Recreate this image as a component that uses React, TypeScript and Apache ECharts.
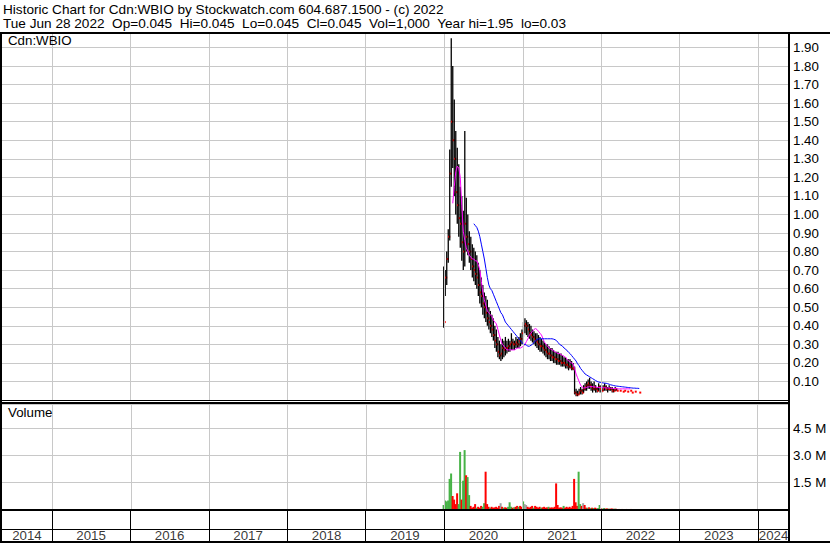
import React, { useEffect, useRef } from "react";
import * as echarts from "echarts";

const FONT = '"Liberation Sans", Arial, Helvetica, sans-serif';
const FS = 13.3;
const FS_HEAD = 13.6;

// ---- header texts ----
const titleLine1 = "Historic Chart for Cdn:WBIO by Stockwatch.com 604.687.1500 - (c) 2022";
const titleLine2 = "Tue Jun 28 2022  Op=0.045  Hi=0.045  Lo=0.045  Cl=0.045  Vol=1,000  Year hi=1.95  lo=0.03";
const symbolLabel = "Cdn:WBIO";
const volumeLabel = "Volume";

// ---- time axis ----
const axisStart = Date.UTC(2014, 4, 14);
const axisEnd = Date.UTC(2024, 4, 24);
const years = [2014, 2015, 2016, 2017, 2018, 2019, 2020, 2021, 2022, 2023, 2024];
const firstWeek = Date.UTC(2019, 11, 30);
const WEEK = 7 * 24 * 3600 * 1000;

// ---- weekly price data (index 0 = week of 2019-12-30) ----
const high = [
  0.72, 0.70, 0.80, 0.92, 1.35, 1.95, 1.80, 1.62, 1.45, 1.36,
  1.27, 1.15, 1.10, 1.02, 1.45, 1.09, 1.00, 0.91, 0.88, 0.84,
  0.82, 0.80, 0.78, 0.74, 0.70, 0.66, 0.62, 0.58, 0.56, 0.54,
  0.50, 0.48, 0.46, 0.44, 0.40, 0.38, 0.34, 0.32, 0.30, 0.33,
  0.32, 0.34, 0.32, 0.33, 0.32, 0.36, 0.33, 0.32, 0.34, 0.33,
  0.34, 0.36, 0.38, 0.42, 0.44, 0.43, 0.42, 0.41, 0.40, 0.38,
  0.37, 0.36, 0.36, 0.35, 0.34, 0.33, 0.32, 0.31, 0.30, 0.30,
  0.29, 0.28, 0.28, 0.27, 0.26, 0.26, 0.26, 0.25, 0.25, 0.24,
  0.23, 0.23, 0.22, 0.22, 0.22, 0.21, 0.20, 0.18, 0.06, 0.05,
  0.06, 0.07, 0.06, 0.08, 0.09, 0.10, 0.11, 0.12, 0.10, 0.09,
  0.10, 0.08, 0.07, 0.09, 0.08, 0.07, 0.08, 0.09, 0.08, 0.07,
  0.08, 0.07, 0.07, 0.06, 0.07, 0.06, null, 0.05, null, 0.045,
  0.05, null, 0.045, null, 0.05, 0.04, null, 0.045, null, null,
  0.04,
];
const low = [
  0.39, 0.56, 0.62, 0.74, 0.86, 1.15, 1.25, 1.10, 1.00, 0.95,
  0.88, 0.82, 0.75, 0.70, 0.72, 0.80, 0.78, 0.74, 0.70, 0.66,
  0.64, 0.62, 0.60, 0.56, 0.52, 0.50, 0.46, 0.44, 0.42, 0.40,
  0.38, 0.36, 0.34, 0.32, 0.28, 0.26, 0.23, 0.22, 0.21, 0.22,
  0.23, 0.24, 0.25, 0.26, 0.26, 0.27, 0.27, 0.27, 0.28, 0.28,
  0.28, 0.29, 0.30, 0.34, 0.36, 0.35, 0.34, 0.33, 0.32, 0.31,
  0.30, 0.29, 0.28, 0.27, 0.26, 0.26, 0.25, 0.24, 0.23, 0.22,
  0.22, 0.21, 0.21, 0.20, 0.20, 0.19, 0.19, 0.19, 0.18, 0.18,
  0.18, 0.17, 0.17, 0.16, 0.17, 0.16, 0.16, 0.03, 0.02, 0.02,
  0.03, 0.03, 0.03, 0.04, 0.05, 0.05, 0.06, 0.06, 0.05, 0.04,
  0.05, 0.04, 0.04, 0.05, 0.04, 0.04, 0.05, 0.05, 0.05, 0.04,
  0.05, 0.05, 0.04, 0.04, 0.05, 0.05, null, 0.05, null, 0.045,
  0.05, null, 0.045, null, 0.05, 0.04, null, 0.045, null, null,
  0.04,
];
const close = [
  0.42, 0.66, 0.76, 0.88, 1.22, 1.50, 1.40, 1.30, 1.12, 1.05,
  0.98, 0.95, 0.85, 0.80, 0.95, 0.88, 0.84, 0.80, 0.76, 0.72,
  0.70, 0.68, 0.66, 0.62, 0.58, 0.56, 0.52, 0.50, 0.47, 0.44,
  0.42, 0.40, 0.38, 0.35, 0.32, 0.30, 0.26, 0.24, 0.25, 0.28,
  0.27, 0.28, 0.28, 0.29, 0.30, 0.31, 0.30, 0.30, 0.31, 0.30,
  0.32, 0.33, 0.36, 0.40, 0.41, 0.40, 0.38, 0.36, 0.35, 0.34,
  0.33, 0.32, 0.31, 0.30, 0.29, 0.29, 0.28, 0.27, 0.26, 0.25,
  0.25, 0.24, 0.23, 0.23, 0.22, 0.22, 0.21, 0.21, 0.20, 0.20,
  0.20, 0.19, 0.19, 0.18, 0.18, 0.17, 0.17, 0.04, 0.03, 0.03,
  0.04, 0.05, 0.04, 0.06, 0.07, 0.08, 0.09, 0.08, 0.07, 0.06,
  0.07, 0.06, 0.05, 0.07, 0.06, 0.05, 0.06, 0.07, 0.06, 0.06,
  0.06, 0.06, 0.05, 0.05, 0.06, 0.05, null, 0.05, null, 0.045,
  0.05, null, 0.045, null, 0.05, 0.04, null, 0.045, null, null,
  0.04,
];

// ---- moving averages ----
const maFastStart = 6;
const maFast = [
  1.06, 1.15, 1.23, 1.26, 1.25, 1.20, 1.05, 0.91, 0.86, 0.82,
  0.80, 0.78, 0.77, 0.76, 0.76, 0.75, 0.75, 0.73, 0.70, 0.64,
  0.58, 0.54, 0.51, 0.48, 0.47, 0.46, 0.45, 0.43, 0.42, 0.41,
  0.38, 0.35, 0.32, 0.30, 0.29, 0.28, 0.27, 0.27, 0.27, 0.27,
  0.27, 0.27, 0.275, 0.28, 0.28, 0.28, 0.285, 0.29, 0.30, 0.315,
  0.33, 0.35, 0.36, 0.37, 0.38, 0.385, 0.38, 0.37, 0.36, 0.35,
  0.33, 0.31, 0.30, 0.29, 0.28, 0.275, 0.27, 0.265, 0.26, 0.255,
  0.25, 0.25, 0.245, 0.24, 0.235, 0.23, 0.22, 0.21, 0.205, 0.20,
  0.195, 0.17, 0.14, 0.12, 0.10, 0.08, 0.07, 0.065, 0.065, 0.068,
  0.07, 0.072, 0.073, 0.072, 0.07, 0.07, 0.068, 0.067, 0.068, 0.068,
  0.066, 0.066, 0.065, 0.065, 0.065, 0.064, 0.063, 0.062, 0.062, 0.061,
  0.06, 0.06, 0.06, 0.06, 0.06, 0.06, 0.06, 0.06, 0.06,
];
const maSlowStart = 20;
const maSlow = [
  0.95, 0.94, 0.93, 0.91, 0.88, 0.84, 0.80, 0.76, 0.71, 0.66,
  0.62, 0.60, 0.59, 0.57, 0.55, 0.53, 0.51, 0.49, 0.47, 0.46,
  0.44, 0.42, 0.41, 0.40, 0.39, 0.38, 0.37, 0.36, 0.35, 0.34,
  0.33, 0.32, 0.31, 0.30, 0.30, 0.295, 0.29, 0.29, 0.295, 0.30,
  0.31, 0.32, 0.325, 0.33, 0.33, 0.33, 0.33, 0.33, 0.33, 0.33,
  0.33, 0.33, 0.33, 0.328, 0.325, 0.32, 0.31, 0.30, 0.295, 0.29,
  0.28, 0.275, 0.265, 0.258, 0.25, 0.24, 0.23, 0.22, 0.21, 0.195,
  0.185, 0.17, 0.16, 0.15, 0.14, 0.135, 0.13, 0.125, 0.12, 0.115,
  0.11, 0.105, 0.10, 0.097, 0.095, 0.093, 0.092, 0.091, 0.09, 0.088,
  0.085, 0.082, 0.08, 0.078, 0.076, 0.075, 0.074, 0.073, 0.072, 0.071,
  0.07, 0.069, 0.068, 0.067, 0.066, 0.065, 0.064, 0.064, 0.063, 0.063,
  0.062,
];

// ---- weekly volume (millions) and direction u=up d=down n=unchanged ----
const volume = [
  0.25, 0.5, 0.45, 0.5, 1.7, 2.0, 0.75, 0.55, 0.3, 0.9,
  0.3, 3.2, 0.55, 1.6, 3.3, 1.9, 1.8, 0.8, 0.2, 0.1,
  0.15, 0.3, 0.1, 0.15, 0.1, 0.2, 0.15, 0.35, 2.1, 0.3,
  0.15, 0.1, 0.15, 0.1, 0.12, 0.15, 0.1, 0.2, 0.35, 0.15,
  0.1, 0.12, 0.1, 0.15, 0.4, 0.15, 0.1, 0.12, 0.15, 0.2,
  0.15, 0.2, 0.15, 0.45, 0.3, 0.25, 0.15, 0.1, 0.15, 0.2,
  0.1, 0.2, 0.15, 0.1, 0.15, 0.1, 0.12, 0.15, 0.1, 0.12,
  0.15, 0.1, 0.12, 0.1, 0.15, 1.45, 0.25, 0.1, 0.12, 0.1,
  0.2, 0.1, 0.15, 0.1, 0.15, 0.1, 0.2, 1.7, 0.4, 0.2,
  2.1, 0.3, 0.2, 0.35, 0.25, 0.1, 0.1, 0.12, 0.08, 0.1,
  0.08, 0.1, 0.06, 0.08, 0.25, 0.06, 0.05, 0.08, 0.05, 0.06,
  0.05, 0.04, 0.06, 0.04, 0.05, 0.04, 0, 0.03, 0, 0.03,
  0.02, 0, 0.03, 0, 0.02, 0.03, 0, 0.02, 0, 0,
  0.02,
];
const volumeDir =
  "uuuuuudddd" + "uuduuduudd" + "dduddduudd" + "duddddddnd" + "udduuududd" +
  "uddunndddd" + "uddddudddd" + "uddddddddd" + "uddddddddd" + "uudnddudud" +
  "udduuduudd" + "udddudndnd" + "undnudndnn" + "d";

const dirColor: Record<string, string> = { u: "#47B347", d: "#FF0000", n: "#A0A0A0" };

const weekDate = (i: number) => firstWeek + i * WEEK;

export default function App() {
  const ref = useRef<HTMLDivElement>(null);
  useEffect(() => {
    if (!ref.current) return;
    const chart = echarts.init(ref.current, null, { renderer: "svg" });

    const n = Math.min(high.length, low.length, close.length);
    const priceData: any[] = [];
    for (let i = 0; i < n; i++) {
      if (high[i] == null || low[i] == null || close[i] == null) continue;
      priceData.push([weekDate(i), high[i], low[i], close[i]]);
    }
    const fastData = maFast.map((v, k) => [weekDate(maFastStart + k), v]);
    const slowData = maSlow.map((v, k) => [weekDate(maSlowStart + k), v]);
    const volData: any[] = [];
    for (let i = 0; i < volume.length; i++) {
      if (!volume[i]) continue;
      volData.push({
        value: [weekDate(i), volume[i]],
        itemStyle: { color: dirColor[volumeDir[i]] || "#A0A0A0" },
      });
    }
    const yearLines = years.slice(1).map((y) => ({ xAxis: Date.UTC(y, 0, 1) }));
    const yearLabelData = years.map((y) => {
      const s = Math.max(Date.UTC(y, 0, 1), axisStart);
      const e = Math.min(Date.UTC(y + 1, 0, 1), axisEnd);
      return { value: [(s + e) / 2, 0.18], name: String(y) };
    });

    const gridLine = { color: "#C8C8C8", width: 1, type: "solid" as const };
    const mkLine = (color: string) => ({
      silent: true,
      symbol: ["none", "none"],
      label: { show: false },
      emphasis: { disabled: true },
      lineStyle: { color, width: 1, type: "solid" },
      data: yearLines,
      animation: false,
    });

    const xAx = (gi: number) => ({
      type: "time",
      gridIndex: gi,
      min: axisStart,
      max: axisEnd,
      show: false,
    });

    const option: any = {
      animation: false,
      backgroundColor: "#FFFFFF",
      grid: [
        { left: 2, top: 33, width: 787, height: 367 },
        { left: 2, top: 404, width: 787, height: 105.5 },
        { left: 2, top: 511, width: 787, height: 30 },
      ],
      xAxis: [xAx(0), xAx(1), xAx(2)],
      yAxis: [
        {
          type: "value",
          gridIndex: 0,
          min: 0,
          max: 1.978,
          interval: 0.1,
          position: "right",
          axisLine: { show: false },
          axisTick: { show: false },
          splitLine: { show: true, lineStyle: gridLine },
          axisLabel: {
            color: "#000",
            fontFamily: FONT,
            fontSize: FS,
            margin: 4,
            showMaxLabel: false,
            showMinLabel: false,
            formatter: (v: number) => {
              const k = Math.round(v * 10);
              return Math.abs(v * 10 - k) < 1e-6 && k >= 1 && k <= 19 ? v.toFixed(2) : "";
            },
          },
        },
        {
          type: "value",
          gridIndex: 1,
          min: 0,
          max: 5.861,
          interval: 1.5,
          position: "right",
          axisLine: { show: false },
          axisTick: { show: false },
          splitLine: { show: true, lineStyle: gridLine },
          axisLabel: {
            color: "#000",
            fontFamily: FONT,
            fontSize: FS,
            margin: 4,
            showMaxLabel: false,
            showMinLabel: false,
            formatter: (v: number) => {
              const k = Math.round(v / 1.5);
              return Math.abs(v / 1.5 - k) < 1e-6 && k >= 1 && k <= 3 ? v.toFixed(1) + " M" : "";
            },
          },
        },
        { type: "value", gridIndex: 2, min: 0, max: 1, show: false },
      ],
      series: [
        {
          type: "line",
          xAxisIndex: 0,
          yAxisIndex: 0,
          data: [],
          z: 1,
          markLine: mkLine("#C8C8C8"),
        },
        {
          type: "custom",
          xAxisIndex: 0,
          yAxisIndex: 0,
          z: 3,
          clip: true,
          encode: { x: 0, y: [1, 2, 3] },
          data: priceData,
          renderItem: (params: any, api: any) => {
            const t = api.value(0);
            const pH = api.coord([t, api.value(1)]);
            const pL = api.coord([t, api.value(2)]);
            const pC = api.coord([t, api.value(3)]);
            return {
              type: "group",
              children: [
                {
                  type: "line",
                  shape: { x1: pH[0], y1: pH[1], x2: pL[0], y2: pL[1] },
                  style: { stroke: "#000000", lineWidth: 1.3 },
                },
                {
                  type: "rect",
                  shape: { x: pC[0], y: pC[1] - 1, width: 2, height: 2 },
                  style: { fill: "#FF0000" },
                },
              ],
            };
          },
        },
        {
          type: "line",
          xAxisIndex: 0,
          yAxisIndex: 0,
          data: fastData,
          showSymbol: false,
          z: 4,
          lineStyle: { color: "#FF00FF", width: 1 },
          itemStyle: { color: "#FF00FF" },
        },
        {
          type: "line",
          xAxisIndex: 0,
          yAxisIndex: 0,
          data: slowData,
          showSymbol: false,
          z: 4,
          lineStyle: { color: "#0000FF", width: 1 },
          itemStyle: { color: "#0000FF" },
        },
        {
          type: "line",
          xAxisIndex: 1,
          yAxisIndex: 1,
          data: [],
          z: 1,
          markLine: mkLine("#C8C8C8"),
        },
        {
          type: "bar",
          xAxisIndex: 1,
          yAxisIndex: 1,
          barWidth: 2,
          z: 3,
          data: volData,
        },
        {
          type: "scatter",
          xAxisIndex: 2,
          yAxisIndex: 2,
          symbolSize: 0,
          z: 3,
          data: yearLabelData,
          label: {
            show: true,
            position: "inside",
            formatter: (p: any) => p.name,
            color: "#000",
            fontFamily: FONT,
            fontSize: FS,
          },
          markLine: mkLine("#000000"),
        },
      ],
      graphic: [
        { type: "text", left: 3, top: 2, z: 100, style: { text: titleLine1, fill: "#000", font: `${FS_HEAD}px ${FONT}` } },
        { type: "text", left: 3, top: 16, z: 100, style: { text: titleLine2, fill: "#000", font: `${FS_HEAD}px ${FONT}` } },
        { type: "text", left: 8, top: 34, z: 100, style: { text: symbolLabel, fill: "#000", font: `${FS}px ${FONT}` } },
        { type: "text", left: 8, top: 406, z: 100, style: { text: volumeLabel, fill: "#000", font: `${FS}px ${FONT}` } },
        { type: "rect", z: 100, shape: { x: 0, y: 32, width: 830, height: 2 }, style: { fill: "#000" } },
        { type: "rect", z: 100, shape: { x: 0, y: 32, width: 2, height: 511 }, style: { fill: "#000" } },
        { type: "rect", z: 100, shape: { x: 788, y: 32, width: 2, height: 511 }, style: { fill: "#000" } },
        { type: "rect", z: 100, shape: { x: 2, y: 400, width: 786, height: 1 }, style: { fill: "#000" } },
        { type: "rect", z: 100, shape: { x: 2, y: 402, width: 786, height: 2 }, style: { fill: "#000" } },
        { type: "rect", z: 100, shape: { x: 0, y: 509, width: 790, height: 2 }, style: { fill: "#000" } },
        { type: "rect", z: 100, shape: { x: 2, y: 529, width: 786, height: 1 }, style: { fill: "#000" } },
        { type: "rect", z: 100, shape: { x: 0, y: 541, width: 830, height: 2 }, style: { fill: "#000" } },
      ],
    };
    chart.setOption(option);
    return () => chart.dispose();
  }, []);
  return (
    <div
      ref={ref}
      style={{ position: "fixed", left: 0, top: 0, width: 830, height: 543, background: "#fff" }}
    />
  );
}
